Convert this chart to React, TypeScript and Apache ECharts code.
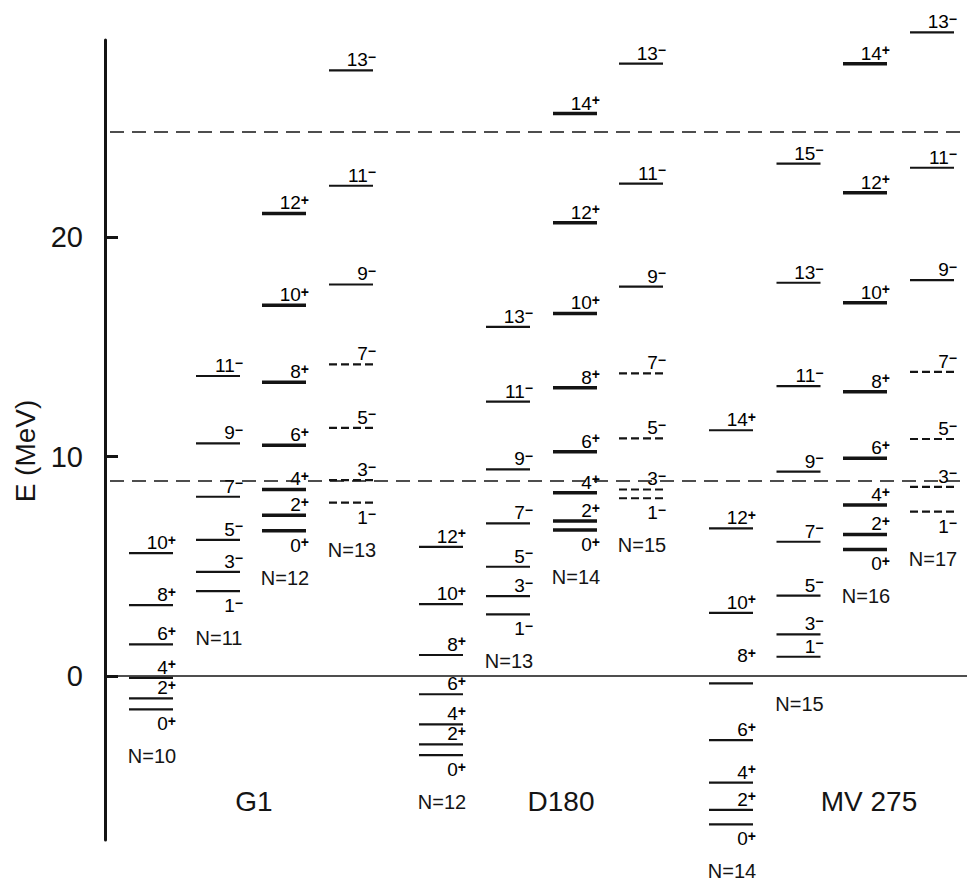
import React, { useEffect, useRef } from "react";
import * as echarts from "echarts";

// ---- axis ----
const Y_TICKS = [0, 10, 20];
const Y_MIN = -7.47;
const Y_MAX = 28.98;

// ---- level energies (MeV) and spins ----
const G1_N10_E = [5.6, 3.23, 1.44, -0.08, -1.02, -1.52];
const G1_N10_J = ["10+", "8+", "6+", "4+", "2+", "0+"];
const G1_N11_E = [13.67, 10.6, 8.17, 6.2, 4.75, 3.87];
const G1_N11_J = ["11-", "9-", "7-", "5-", "3-", "1-"];
const G1_N12_E = [21.08, 16.89, 13.39, 10.52, 8.5, 7.33, 6.62];
const G1_N12_J = ["12+", "10+", "8+", "6+", "4+", "2+", "0+"];
const G1_N13_E = [27.6, 22.34, 17.84, 14.2, 11.31, 8.93, 7.9];
const G1_N13_J = ["13-", "11-", "9-", "7-", "5-", "3-", "1-"];

const D180_N12_E = [5.89, 3.28, 0.96, -0.83, -2.2, -3.11, -3.6];
const D180_N12_J = ["12+", "10+", "8+", "6+", "4+", "2+", "0+"];
const D180_N13_E = [15.91, 12.5, 9.42, 6.96, 4.98, 3.64, 2.81];
const D180_N13_J = ["13-", "11-", "9-", "7-", "5-", "3-", "1-"];
const D180_N14_E = [25.63, 20.65, 16.52, 13.14, 10.22, 8.35, 7.06, 6.65];
const D180_N14_J = ["14+", "12+", "10+", "8+", "6+", "4+", "2+", "0+"];
const D180_N15_E = [27.9, 22.44, 17.74, 13.79, 10.83, 8.5, 8.1];
const D180_N15_J = ["13-", "11-", "9-", "7-", "5-", "3-", "1-"];

const MV275_N14_E = [11.2, 6.73, 2.88, -0.33, -2.92, -4.86, -6.1, -6.76];
const MV275_N14_J = ["14+", "12+", "10+", "8+", "6+", "4+", "2+", "0+"];
const MV275_N15_E = [23.35, 17.92, 13.21, 9.31, 6.12, 3.66, 1.9, 0.88];
const MV275_N15_J = ["15-", "13-", "11-", "9-", "7-", "5-", "3-", "1-"];
const MV275_N16_E = [27.9, 22.02, 17.01, 12.95, 9.92, 7.79, 6.45, 5.77];
const MV275_N16_J = ["14+", "12+", "10+", "8+", "6+", "4+", "2+", "0+"];
const MV275_N17_E = [29.33, 23.16, 18.04, 13.86, 10.8, 8.62, 7.49];
const MV275_N17_J = ["13-", "11-", "9-", "7-", "5-", "3-", "1-"];

const N_LABELS = ["N=10", "N=11", "N=12", "N=13", "N=12", "N=13", "N=14", "N=15", "N=14", "N=15", "N=16", "N=17"];
const DASHED_LINES = [24.8, 8.9];
const GROUP_NAMES = ["G1", "D180", "MV 275"];

// ---- layout (x positions of the level columns, in axis units) ----
const COLUMN_X = [46, 113, 179, 246, 336, 403, 470, 536, 626, 693.5, 760, 827];
const COLUMN_BOLD = [false, false, true, false, false, false, true, false, false, false, true, false];
const COLUMN_DASHED_LOWEST = [0, 0, 0, 4, 0, 0, 0, 4, 0, 0, 0, 4];
const LEVEL_E = [G1_N10_E, G1_N11_E, G1_N12_E, G1_N13_E, D180_N12_E, D180_N13_E, D180_N14_E, D180_N15_E, MV275_N14_E, MV275_N15_E, MV275_N16_E, MV275_N17_E];
const LEVEL_J = [G1_N10_J, G1_N11_J, G1_N12_J, G1_N13_J, D180_N12_J, D180_N13_J, D180_N14_J, D180_N15_J, MV275_N14_J, MV275_N15_J, MV275_N16_J, MV275_N17_J];
const GROUP_POS = [[254, 801], [561, 801], [869, 801]];

const FONT = "'Liberation Sans', Arial, sans-serif";
const INK = "#141414";

export default function App() {
  const ref = useRef<HTMLDivElement>(null);
  useEffect(() => {
    if (!ref.current) return;
    const chart = echarts.init(ref.current, null, { renderer: "svg" });

    const levelData: number[][] = [];
    const nData: number[][] = [];
    LEVEL_E.forEach((es, c) => {
      es.forEach((e, i) => levelData.push([COLUMN_X[c], e, c, i]));
      nData.push([COLUMN_X[c], Math.min(...es), c]);
    });

    const rich = {
      n: { fontSize: 19, lineHeight: 20, fontFamily: FONT, color: INK },
      s: { fontSize: 14, lineHeight: 11, fontFamily: FONT, color: INK, fontWeight: "bold", verticalAlign: "top" },
    };

    const option: any = {
      animation: false,
      backgroundColor: "#ffffff",
      grid: { left: 105, right: 0, top: 40, bottom: 42, containLabel: false, outerBoundsMode: "none" },
      xAxis: { type: "value", min: 0, max: 862, show: false },
      yAxis: {
        type: "value",
        min: Y_MIN,
        max: Y_MAX,
        name: "E (MeV)",
        nameLocation: "middle",
        nameGap: 66,
        nameRotate: 90,
        nameTextStyle: { fontSize: 28, fontFamily: FONT, color: INK, padding: [0, 22, 0, 0] },
        axisLine: { show: true, lineStyle: { color: INK, width: 3 } },
        axisTick: { show: true, inside: true, length: 13, customValues: Y_TICKS, lineStyle: { color: INK, width: 3 } },
        axisLabel: { show: true, customValues: Y_TICKS, margin: 22, fontSize: 29, fontFamily: FONT, color: INK },
        splitLine: { show: false },
      },
      series: [
        {
          type: "line",
          data: [],
          silent: true,
          markLine: {
            silent: true,
            symbol: ["none", "none"],
            label: { show: false },
            data: [
              [
                { coord: [0, 0], lineStyle: { type: "solid", width: 1.5, color: INK } },
                { coord: [862, 0] },
              ],
              ...DASHED_LINES.map((v) => [
                { coord: [5, v], lineStyle: { type: [14, 8], width: 1.5, color: INK } },
                { coord: [862, v] },
              ]),
            ],
          },
        },
        {
          type: "custom",
          data: levelData,
          encode: { x: 0, y: 1 },
          clip: false,
          silent: true,
          renderItem: (params: any, api: any) => {
            const c = api.value(2);
            const i = api.value(3);
            const p = api.coord([api.value(0), api.value(1)]);
            const half = 22;
            const x1 = p[0] - half;
            const x2 = p[0] + half;
            const es = LEVEL_E[c];
            const dashed = i >= es.length - COLUMN_DASHED_LOWEST[c];
            const j = LEVEL_J[c][i];
            const num = j.slice(0, -1);
            const sign = j.slice(-1) === "+" ? "+" : "−";
            let below = j === "0+" || j === "1-";
            if (c === 9 && j === "1-") below = false;
            let ty = below ? p[1] + 14.5 : p[1] - 10.5;
            if (c === 8 && j === "8+") ty -= 17;
            return {
              type: "group",
              children: [
                {
                  type: "line",
                  shape: { x1, y1: p[1], x2, y2: p[1] },
                  style: {
                    stroke: INK,
                    lineWidth: COLUMN_BOLD[c] ? 3.5 : 2.2,
                    lineDash: dashed ? [8, 4] : null,
                  },
                },
                {
                  type: "text",
                  style: {
                    text: `{n|${num}}{s|${sign}}`,
                    x: x2 + 3,
                    y: ty,
                    align: "right",
                    verticalAlign: "middle",
                    rich,
                  },
                },
              ],
            };
          },
        },
        {
          type: "custom",
          data: nData,
          encode: { x: 0, y: 1 },
          clip: false,
          silent: true,
          renderItem: (params: any, api: any) => {
            const c = api.value(2);
            const p = api.coord([api.value(0), api.value(1)]);
            return {
              type: "text",
              style: {
                text: N_LABELS[c],
                x: p[0] + 1,
                y: p[1] + 47,
                align: "center",
                verticalAlign: "middle",
                fontSize: 20,
                fontFamily: FONT,
                fill: INK,
              },
            };
          },
        },
      ],
      graphic: GROUP_NAMES.map((g, k) => ({
        type: "text",
        x: GROUP_POS[k][0],
        y: GROUP_POS[k][1],
        style: {
          text: g,
          fontSize: 28,
          fontFamily: FONT,
          fill: INK,
          align: "center",
          verticalAlign: "middle",
        },
      })),
    };
    chart.setOption(option);
    return () => chart.dispose();
  }, []);
  return (
    <div
      ref={ref}
      style={{ position: "fixed", left: 0, top: 0, width: 967, height: 882, background: "#fff" }}
    />
  );
}
